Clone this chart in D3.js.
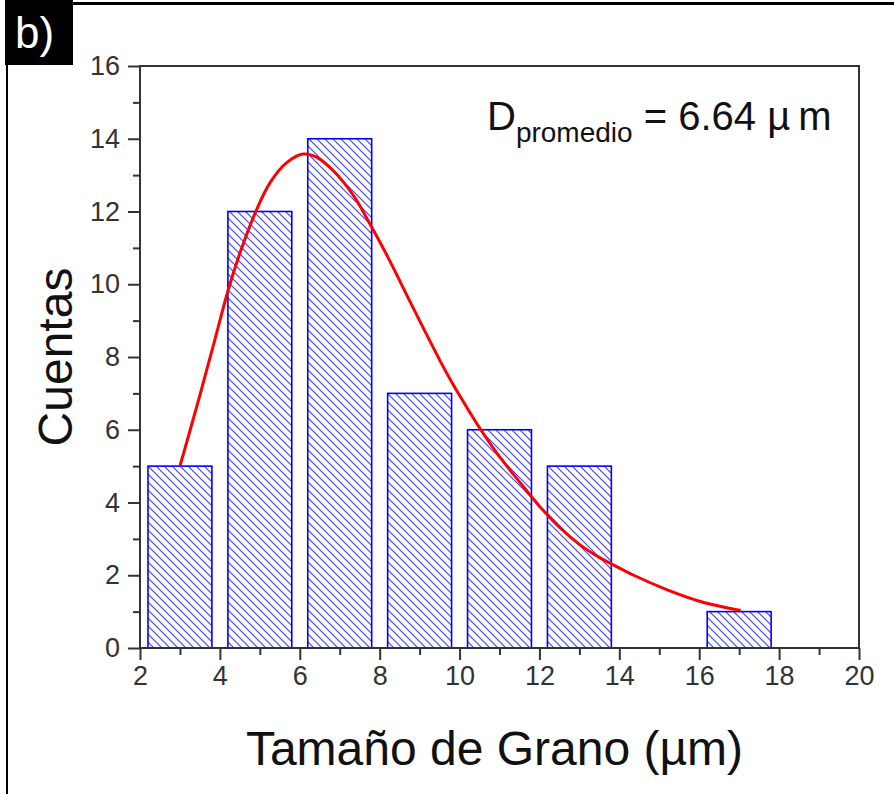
<!DOCTYPE html>
<html>
<head>
<meta charset="utf-8">
<script src="https://cdn.jsdelivr.net/npm/d3@7"></script>
<style>
  body { margin: 0; background: #fff; }
  svg { display: block; font-family: "Liberation Sans", Arial, sans-serif; }
</style>
</head>
<body>
<script>
// histograma de tamaño de grano
const binCenters = [3, 5, 7, 9, 11, 13, 15, 17];
const counts = [5, 12, 14, 7, 6, 5, 0, 1];

// curva de ajuste
const fitX = [3.0, 3.5, 3.88, 4.21, 4.5, 4.88, 5.26, 5.68, 6.09, 6.43, 6.84, 7.35, 7.76, 8.18, 8.77, 9.1, 9.52, 9.85, 10.19, 10.52, 10.94, 11.44, 12.0, 12.5, 13.0, 13.53, 13.86, 14.36, 15.2, 16.03, 17.04];
const fitY = [5.0, 6.95, 8.5, 9.85, 10.85, 11.95, 12.8, 13.35, 13.58, 13.49, 13.12, 12.43, 11.65, 10.8, 9.5, 8.78, 7.88, 7.22, 6.6, 6.02, 5.35, 4.65, 3.9, 3.32, 2.85, 2.47, 2.28, 2.0, 1.6, 1.28, 1.03];

const xMajor = [2, 4, 6, 8, 10, 12, 14, 16, 18, 20];
const xMinor = [3, 5, 7, 9, 11, 13, 15, 17, 19];
const yMajor = [0, 2, 4, 6, 8, 10, 12, 14, 16];
const yMinor = [1, 3, 5, 7, 9, 11, 13, 15];

const W = 894, H = 794;
const margin = { top: 66, right: 35, bottom: 146, left: 140 },
      width = W - margin.left - margin.right,
      height = H - margin.top - margin.bottom;

const root = d3.select("body").append("svg")
    .attr("width", W)
    .attr("height", H);

// patrón de rayado
const defs = root.append("defs");
const pat = defs.append("pattern")
    .attr("id", "hatch")
    .attr("patternUnits", "userSpaceOnUse")
    .attr("width", 8)
    .attr("height", 8);
pat.append("path")
    .attr("d", "M-1,-1 L9,9 M-1,7 L1,9 M7,-1 L9,1")
    .attr("stroke", "#4040ff")
    .attr("stroke-width", 1.1)
    .attr("fill", "none");

// marco exterior y etiqueta "b)"
root.append("line")
    .attr("x1", 70).attr("x2", W).attr("y1", 3.5).attr("y2", 3.5)
    .attr("stroke", "#000").attr("stroke-width", 3);
root.append("line")
    .attr("x1", 7).attr("x2", 7).attr("y1", 60).attr("y2", H)
    .attr("stroke", "#000").attr("stroke-width", 2);
root.append("rect")
    .attr("x", 5).attr("y", 0).attr("width", 68).attr("height", 65)
    .attr("fill", "#000");
root.append("text")
    .attr("x", 15).attr("y", 48)
    .attr("fill", "#fff")
    .attr("font-size", 44)
    .text("b)");

const svg = root.append("g")
    .attr("transform", `translate(${margin.left},${margin.top})`);

const x = d3.scaleLinear().domain([2, 20]).range([0, width]);
const y = d3.scaleLinear().domain([0, 16]).range([height, 0]);

// barras (80% del ancho de clase)
const barW = x(3.6) - x(2);
svg.selectAll("rect.bar")
    .data(binCenters.map((c, i) => ({ c, v: counts[i] })).filter(d => d.v > 0))
    .enter()
    .append("rect")
    .attr("class", "bar")
    .attr("x", d => x(d.c) - barW / 2)
    .attr("y", d => y(d.v))
    .attr("width", barW)
    .attr("height", d => y(0) - y(d.v))
    .attr("fill", "url(#hatch)")
    .attr("stroke", "#0000ff")
    .attr("stroke-width", 1.6);

// curva de ajuste
const line = d3.line()
    .x(d => x(d[0]))
    .y(d => y(d[1]))
    .curve(d3.curveCatmullRom);
svg.append("path")
    .datum(fitX.map((v, i) => [v, fitY[i]]))
    .attr("d", line)
    .attr("fill", "none")
    .attr("stroke", "#ff0000")
    .attr("stroke-width", 3);

// ejes
function styleAxis(g) {
    g.select(".domain").remove();
    g.selectAll("line").attr("stroke", "#333").attr("stroke-width", 2);
    g.selectAll("text").attr("fill", "#333").attr("font-size", 27)
        .attr("font-family", "'Liberation Sans', Arial, sans-serif");
}

svg.append("g")
    .attr("transform", `translate(0,${height})`)
    .call(d3.axisBottom(x).tickValues(xMinor).tickSize(7).tickFormat(""))
    .call(styleAxis);
svg.append("g")
    .attr("transform", `translate(0,${height})`)
    .call(d3.axisBottom(x).tickValues(xMajor).tickSize(12).tickPadding(6).tickFormat(d3.format("d")))
    .call(styleAxis);

svg.append("g")
    .call(d3.axisLeft(y).tickValues(yMinor).tickSize(7).tickFormat(""))
    .call(styleAxis);
svg.append("g")
    .call(d3.axisLeft(y).tickValues(yMajor).tickSize(12).tickPadding(8).tickFormat(d3.format("d")))
    .call(styleAxis);

// caja del gráfico
svg.append("rect")
    .attr("width", width)
    .attr("height", height)
    .attr("fill", "none")
    .attr("stroke", "#333")
    .attr("stroke-width", 2);

// títulos de ejes
svg.append("text")
    .attr("x", width / 2 - 5)
    .attr("y", height + 117)
    .attr("text-anchor", "middle")
    .attr("font-size", 48)
    .attr("fill", "#111")
    .text("Tamaño de Grano (µm)");

svg.append("text")
    .attr("transform", `translate(${-68},${height / 2}) rotate(-90)`)
    .attr("text-anchor", "middle")
    .attr("font-size", 48)
    .attr("fill", "#111")
    .text("Cuentas");

// anotación
const ann = svg.append("text")
    .attr("x", 347)
    .attr("y", 64)
    .attr("font-size", 40)
    .attr("fill", "#111");
ann.append("tspan").text("D");
ann.append("tspan").attr("font-size", 28).attr("dy", 12).text("promedio");
ann.append("tspan").attr("dy", -12).text(" = 6.64 µ\u2009m");
</script>
</body>
</html>
